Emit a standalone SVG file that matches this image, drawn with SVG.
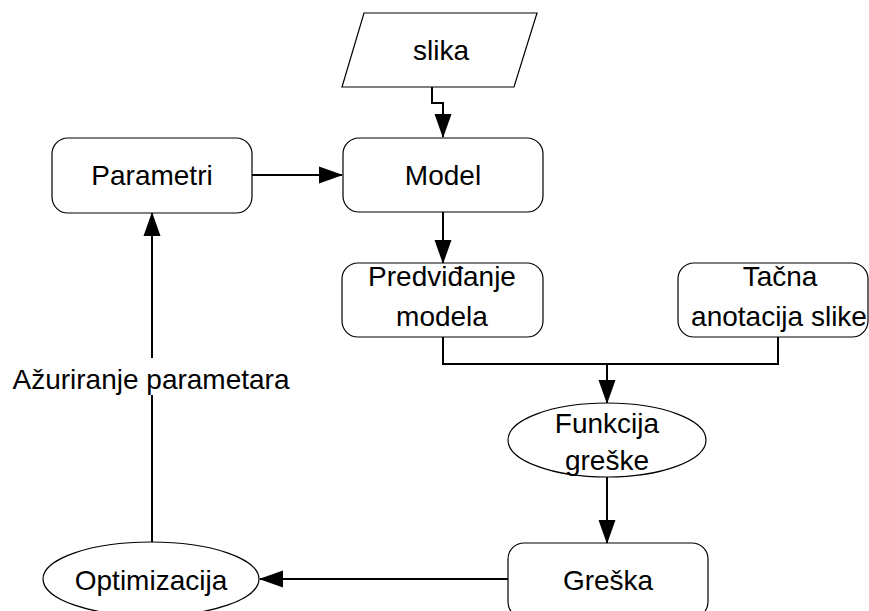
<svg xmlns="http://www.w3.org/2000/svg" width="869" height="611" viewBox="0 0 869 611">
  <style>
    .shape { fill: #ffffff; stroke: #000000; stroke-width: 1.2; }
    .edge { fill: none; stroke: #000000; stroke-width: 2; }
    text { font-family: "Liberation Sans", Arial, sans-serif; font-size: 28px; fill: #000000; text-anchor: middle; }
  </style>
  <defs>
    <marker id="arrow" markerWidth="24" markerHeight="18" refX="23" refY="9" orient="auto" markerUnits="userSpaceOnUse" viewBox="0 0 24 18">
      <path d="M0,0.5 L24,9 L0,17.5 Z" fill="#000000"/>
    </marker>
  </defs>
  <rect width="869" height="611" fill="#ffffff"/>

  <g id="connectors">
    <!-- slika -> Model -->
    <path class="edge" d="M432,87 V103 H443 V137" marker-end="url(#arrow)"/>
    <!-- Parametri -> Model -->
    <path class="edge" d="M252,175 H342" marker-end="url(#arrow)"/>
    <!-- Model -> Predviđanje modela -->
    <path class="edge" d="M443,212 V263" marker-end="url(#arrow)"/>
    <!-- Predviđanje modela + Tačna anotacija -> Funkcija greške -->
    <path class="edge" d="M443,337 V364 H778 V337"/>
    <path class="edge" d="M607,364 V403" marker-end="url(#arrow)"/>
    <!-- Funkcija greške -> Greška -->
    <path class="edge" d="M607,477 V543" marker-end="url(#arrow)"/>
    <!-- Greška -> Optimizacija -->
    <path class="edge" d="M508,579 H260" marker-end="url(#arrow)"/>
    <!-- Optimizacija -> Parametri -->
    <path class="edge" d="M152,542 V395"/>
    <path class="edge" d="M152,358 V213" marker-end="url(#arrow)"/>
    <text x="151" y="389">Ažuriranje parametara</text>
  </g>

  <g id="slika">
    <polygon class="shape" points="364,13 537,13 514,87 342,87"/>
    <text x="441" y="60">slika</text>
  </g>

  <g id="parametri">
    <rect class="shape" x="52" y="138" width="200" height="75" rx="16" ry="16"/>
    <text x="152" y="185">Parametri</text>
  </g>

  <g id="model">
    <rect class="shape" x="343" y="138" width="200" height="74" rx="16" ry="16"/>
    <text x="443" y="185">Model</text>
  </g>

  <g id="predvidjanje">
    <rect class="shape" x="342" y="263" width="201" height="74" rx="16" ry="16"/>
    <text x="442" y="286">Predviđanje</text>
    <text x="442" y="326">modela</text>
  </g>

  <g id="tacna-anotacija">
    <rect class="shape" x="678" y="263" width="190" height="74" rx="16" ry="16"/>
    <text x="780" y="286">Tačna</text>
    <text x="779" y="326">anotacija slike</text>
  </g>

  <g id="funkcija-greske">
    <ellipse class="shape" cx="607" cy="440" rx="99" ry="37"/>
    <text x="607" y="433">Funkcija</text>
    <text x="607" y="470">greške</text>
  </g>

  <g id="greska">
    <rect class="shape" x="508" y="543" width="200" height="75" rx="16" ry="16"/>
    <text x="608" y="590">Greška</text>
  </g>

  <g id="optimizacija">
    <ellipse class="shape" cx="151" cy="579" rx="108" ry="37"/>
    <text x="151" y="590">Optimizacija</text>
  </g>
</svg>
